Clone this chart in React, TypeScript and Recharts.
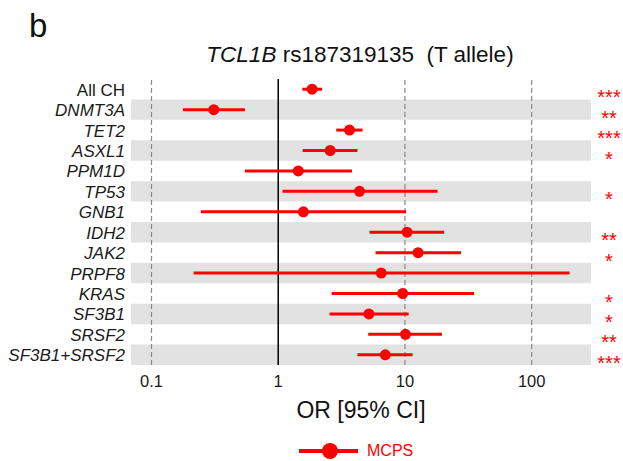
import React from 'react';
import {
    ComposedChart, Scatter, ErrorBar, XAxis, YAxis, ReferenceArea, ReferenceLine, Legend,
} from 'recharts';

// Forest plot: TCL1B rs187319135, odds ratios per CH gene (log scale)
const genes = ['All CH', 'DNMT3A', 'TET2', 'ASXL1', 'PPM1D', 'TP53', 'GNB1', 'IDH2', 'JAK2', 'PRPF8', 'KRAS', 'SF3B1', 'SRSF2', 'SF3B1+SRSF2'];
const oddsRatio = [1.85, 0.31, 3.65, 2.57, 1.44, 4.38, 1.58, 10.4, 12.7, 6.5, 9.6, 5.2, 10.1, 7.0];
const ciLow = [1.55, 0.177, 2.87, 1.56, 0.546, 1.08, 0.245, 5.26, 5.86, 0.215, 2.64, 2.54, 5.13, 4.22];
const ciHigh = [2.22, 0.546, 4.63, 4.22, 3.82, 18.1, 10.2, 20.4, 27.7, 199, 35.1, 10.7, 19.6, 11.5];
const stars = ['***', '**', '***', '*', '', '*', '', '**', '*', '', '*', '*', '**', '***'];
const xTicks = [0.1, 1, 10, 100];

const RED = '#ff0000';

const rows = genes.map((name, i) => ({
    name,
    or: oddsRatio[i],
    err: [oddsRatio[i] - ciLow[i], ciHigh[i] - oddsRatio[i]],
    stars: stars[i],
}));

const starsByName: Record<string, string> = {};
rows.forEach(r => { starsByName[r.name] = r.stars; });

const GeneTick = (props: any) => {
    const { x, y, payload } = props;
    const italic = payload.value !== 'All CH';
    return (
        <text x={x} y={y} dy="0.38em" textAnchor="end" fontSize={17} fill="#1a1a1a" fontStyle={italic ? 'italic' : 'normal'}>
            {payload.value}
        </text>
    );
};

const StarTick = (props: any) => {
    const { x, y, payload } = props;
    return (
        <text x={x + 18} y={y + 15} textAnchor="middle" fontSize={20} fill={RED}>
            {starsByName[payload.value]}
        </text>
    );
};

const LegendContent = () => (
    <div style={{ display: 'flex', alignItems: 'center' }}>
        <svg width={64} height={20}>
            <line x1={0} x2={59} y1={10} y2={10} stroke={RED} strokeWidth={4} />
            <circle cx={31} cy={10} r={8} fill={RED} />
        </svg>
        <span style={{ color: RED, fontSize: 16, marginLeft: 4 }}>MCPS</span>
    </div>
);

export default function App() {
    return (
        <div style={{ position: 'relative', width: 623, height: 461, fontFamily: '"Liberation Sans", Arial, sans-serif' }}>
            <style>{'body{margin:0}'}</style>
            <div style={{ position: 'absolute', left: 29, top: 7, fontSize: 33, color: '#111' }}>b</div>
            <div style={{ position: 'absolute', left: 0, width: 720, top: 42, textAlign: 'center', fontSize: 22.5, color: '#111', whiteSpace: 'pre' }}>
                <i>TCL1B</i> rs187319135  (T allele)
            </div>
            <ComposedChart
                width={623}
                height={461}
                data={rows}
                layout="vertical"
                margin={{ top: 79, right: 0, bottom: 0, left: 0 }}
            >
                <XAxis
                    type="number"
                    dataKey="or"
                    scale="log"
                    domain={[0.0689, 294]}
                    allowDataOverflow
                    ticks={xTicks}
                    tickFormatter={(v) => String(v)}
                    axisLine={false}
                    tickLine={false}
                    tickSize={0}
                    tickMargin={10}
                    height={96}
                    tick={{ fontSize: 16.5, fill: '#1a1a1a' }}
                    label={{ value: 'OR [95% CI]', position: 'insideTop', offset: 37, fontSize: 23, fill: '#111' }}
                />
                <YAxis
                    type="category"
                    dataKey="name"
                    scale="band"
                    width={131}
                    axisLine={false}
                    tickLine={false}
                    tickSize={0}
                    tickMargin={6}
                    interval={0}
                    tick={<GeneTick />}
                />
                <YAxis
                    yAxisId="stars"
                    type="category"
                    dataKey="name"
                    scale="band"
                    orientation="right"
                    width={32}
                    axisLine={false}
                    tickLine={false}
                    tickSize={0}
                    tickMargin={0}
                    interval={0}
                    tick={<StarTick />}
                />
                {genes.filter((_, i) => i % 2 === 1).map(g => (
                    <ReferenceArea key={g} y1={g} y2={g} fill="#e2e2e2" fillOpacity={1} stroke="none" />
                ))}
                {xTicks.filter(t => t !== 1).map(t => (
                    <ReferenceLine key={t} x={t} stroke="#8a8a8a" strokeDasharray="5 3" strokeWidth={1.2} />
                ))}
                <ReferenceLine x={1} stroke="#000" strokeWidth={1.5} />
                <Scatter
                    name="MCPS"
                    dataKey="or"
                    fill={RED}
                    isAnimationActive={false}
                    shape={(p: any) => <circle cx={p.cx} cy={p.cy} r={5.5} fill={RED} />}
                >
                    <ErrorBar dataKey="err" direction="x" width={0} stroke={RED} strokeWidth={3} isAnimationActive={false} />
                </Scatter>
                <Legend
                    layout="horizontal"
                    verticalAlign="middle"
                    align="center"
                    content={<LegendContent />}
                    wrapperStyle={{ left: 299, top: 441, width: 140 }}
                />
            </ComposedChart>
        </div>
    );
}
